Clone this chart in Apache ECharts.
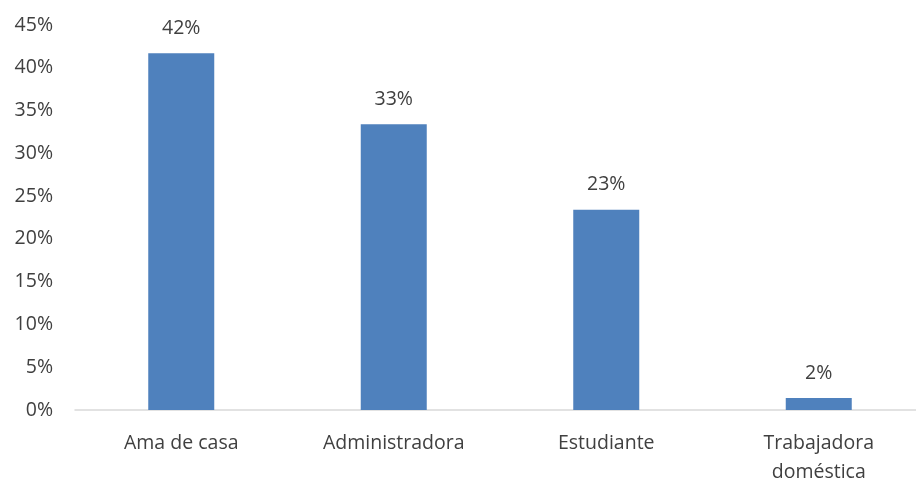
<!DOCTYPE html>
<html>
<head>
<meta charset="utf-8">
<script src="https://cdn.jsdelivr.net/npm/echarts@6/dist/echarts.min.js"></script>
<style>
  html, body { margin: 0; padding: 0; background: #fff; }
  #chart { width: 916px; height: 480px; }
</style>
</head>
<body>
<div id="chart"></div>
<script>
// datos
var categorias = ['Ama de casa', 'Administradora', 'Estudiante', 'Trabajadora\ndoméstica']
var porcentajes = [41.7, 33.4, 23.4, 1.4]
var etiquetas = ['42%', '33%', '23%', '2%']

var chart = echarts.init(document.getElementById('chart'))
var option = {
  animation: false,
  textStyle: { fontFamily: 'Open Sans' },
  grid: {
    left: 75,
    right: -9,
    top: 25,
    bottom: 70,
    containLabel: false,
    outerBoundsMode: 'none'
  },
  xAxis: {
    type: 'category',
    data: categorias,
    axisLine: { lineStyle: { color: '#d9d9d9', width: 1.5 } },
    axisTick: { show: false },
    axisLabel: {
      color: '#404040',
      fontSize: 19.5,
      lineHeight: 29,
      margin: 19
    }
  },
  yAxis: {
    type: 'value',
    min: 0,
    max: 45,
    interval: 5,
    splitLine: { show: false },
    axisLine: { show: false },
    axisTick: { show: false },
    axisLabel: {
      color: '#404040',
      fontSize: 19.5,
      margin: 22,
      formatter: '{value}%'
    }
  },
  series: [
    {
      type: 'bar',
      data: porcentajes,
      barWidth: 66,
      itemStyle: { color: '#4f81bd' },
      label: {
        show: true,
        position: 'top',
        distance: 15,
        color: '#404040',
        fontSize: 19.5,
        formatter: function (p) {
          return etiquetas[p.dataIndex]
        }
      }
    }
  ]
}
chart.setOption(option)
</script>
</body>
</html>
